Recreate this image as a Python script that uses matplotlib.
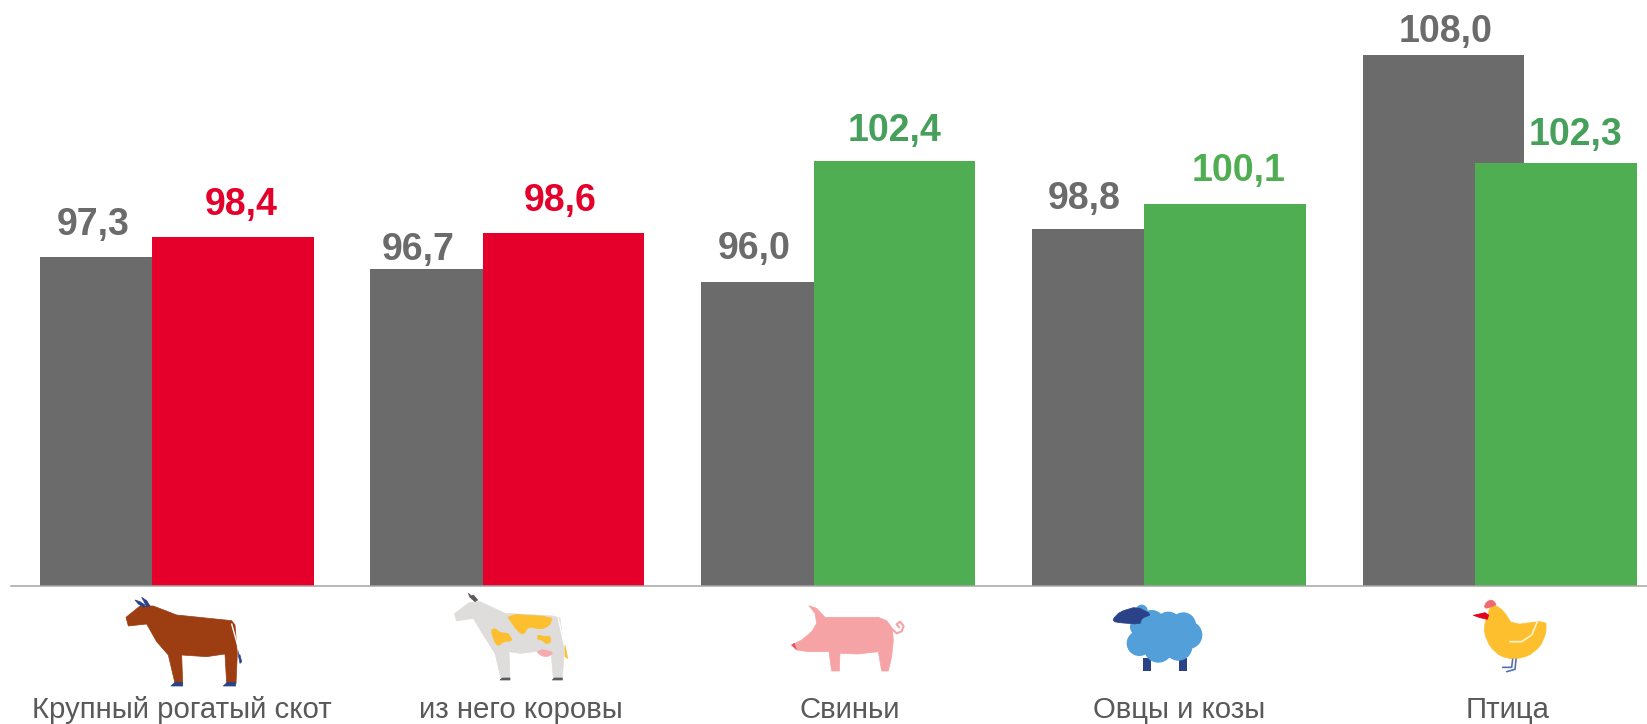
################################################################################
# Grouped bars with animal icons drawn below the axis                          #
################################################################################
import matplotlib
matplotlib.use("Agg")
import matplotlib.pyplot as plt
from matplotlib.patches import Polygon, Circle, Rectangle
import numpy as np

plt.rcParams['font.family'] = ['Liberation Sans', 'DejaVu Sans']

categories = ["Крупный рогатый скот", "из него коровы", "Свиньи", "Овцы и козы", "Птица"]
values_prev = [97.3, 96.7, 96.0, 98.8, 108.0]
values_curr = [98.4, 98.6, 102.4, 100.1, 102.3]
labels_prev = ["97,3", "96,7", "96,0", "98,8", "108,0"]
labels_curr = ["98,4", "98,6", "102,4", "100,1", "102,3"]

GRAY = "#6b6b6b"
RED = "#e4002b"
GREEN = "#4fae52"
curr_colors = [RED, RED, GREEN, GREEN, GREEN]
curr_text_colors = [RED, RED, "#46a05c", GREEN, "#46a05c"]

W, H = 1647, 724
fig = plt.figure(figsize=(W / 100, H / 100), dpi=100)
base_px = 585.5
ax = fig.add_axes([11 / W, 1 - base_px / H, (W - 11) / W, base_px / H])
ax.set_xlim((11 - 39.5) / 330.75, (W - 39.5) / 330.75)
ax.set_ylim(80, 80 + base_px / 18.96)

x = np.arange(len(categories))
bar_w = 161.5 / 330.75
shift = 112.5 / 330.75
ax.bar(x, values_prev, width=bar_w, align='edge', color=GRAY, zorder=2)
ax.bar(x + shift, values_curr, width=bar_w, align='edge', color=curr_colors, zorder=3)

for s in ['top', 'left', 'right']:
    ax.spines[s].set_visible(False)
ax.spines['bottom'].set_color('#a6a6a6')
ax.spines['bottom'].set_linewidth(1.1)
ax.spines['bottom'].set_zorder(4)
ax.set_xticks([])
ax.set_yticks([])

# value labels, offsets are in pixels from the top centre of each bar
dx_prev = [-27, -33, -28, -28, 2]
dy_prev = [32, 19, 33, 30, 23]
dx_curr = [8, -3, 0, 14, 20]
dy_curr = [32, 32, 30, 33, 28]
for i in range(len(x)):
    ax.annotate(labels_prev[i], (x[i] + bar_w / 2, values_prev[i]),
                xytext=(dx_prev[i] * 0.72, dy_prev[i] * 0.72), textcoords='offset points',
                ha='center', va='center', fontsize=27, fontweight='bold', color=GRAY, annotation_clip=False)
    ax.annotate(labels_curr[i], (x[i] + shift + bar_w / 2, values_curr[i]),
                xytext=(dx_curr[i] * 0.72, dy_curr[i] * 0.72), textcoords='offset points',
                ha='center', va='center', fontsize=27, fontweight='bold', color=curr_text_colors[i], annotation_clip=False)

################################################################################
# Overlay in pixel coordinates for the icons and the category names            #
################################################################################
ov = fig.add_axes([0, 0, 1, 1], zorder=5)
ov.set_xlim(0, W)
ov.set_ylim(H, 0)
ov.axis('off')


def soften(pts):
    # one pass of corner cutting, the icons have no hard edges
    out = []
    for k in range(len(pts)):
        a, b = pts[k], pts[(k + 1) % len(pts)]
        out.append((0.8 * a[0] + 0.2 * b[0], 0.8 * a[1] + 0.2 * b[1]))
        out.append((0.2 * a[0] + 0.8 * b[0], 0.2 * a[1] + 0.8 * b[1]))
    return out


def shape(ox, oy, pts, color, z=1, smooth=False):
    if smooth:
        pts = soften(pts)
    pts = [(ox + a / 3, oy + b / 3) for a, b in pts]
    ov.add_patch(Polygon(pts, closed=True, facecolor=color, edgecolor=color,
                         linewidth=0.5, joinstyle='round', zorder=z))


def stroke(ox, oy, pts, color, lw=1.5, z=3):
    ov.plot([ox + a / 3 for a, b in pts], [oy + b / 3 for a, b in pts], color=color,
            lw=lw, solid_capstyle='round', zorder=z)


# beef cow
BROWN = "#9c3d12"
NAVY = "#2a4288"
shape(0, 530, [(378, 262), (420, 228), (460, 228), (530, 255), (695, 272), (705, 285), (712, 370),
               (708, 460), (680, 460), (675, 372), (620, 380), (545, 375), (548, 460), (525, 460),
               (505, 375), (470, 335), (440, 282), (385, 288)], BROWN)
shape(0, 530, [(405, 210), (420, 215), (435, 225), (432, 232), (415, 222)], NAVY, 2)
shape(0, 530, [(425, 202), (440, 212), (450, 228), (440, 230), (432, 215)], NAVY, 2)
shape(0, 530, [(513, 468), (525, 457), (548, 457), (548, 468)], NAVY, 2)
shape(0, 530, [(670, 468), (682, 457), (707, 457), (707, 468)], NAVY, 2)
shape(0, 530, [(716, 360), (725, 395), (720, 400), (716, 380)], NAVY, 2)
stroke(0, 530, [(695, 282), (720, 372)], 'white', 1)

# dairy cow
COW = "#dedddb"
YELLOW = "#fdbf2d"
shape(445, 590, [(28, 72), (72, 38), (105, 35), (180, 70), (325, 78), (345, 85), (358, 180), (352, 265),
                 (325, 265), (318, 185), (270, 185), (225, 190), (192, 185), (195, 265), (168, 265),
                 (150, 190), (115, 135), (85, 85), (35, 93)], COW)
shape(445, 590, [(182, 72), (322, 80), (315, 105), (290, 118), (250, 110), (235, 135), (215, 120)], YELLOW, 2, True)
shape(445, 590, [(138, 120), (150, 115), (165, 128), (190, 130), (203, 152), (175, 155), (160, 168), (148, 155)], YELLOW, 2, True)
shape(445, 590, [(278, 135), (300, 140), (315, 138), (318, 155), (305, 162), (290, 150), (278, 148)], YELLOW, 2, True)
shape(445, 590, [(275, 185), (295, 178), (325, 188), (310, 200), (290, 198)], "#f5aab0", 2, True)
shape(445, 590, [(360, 165), (368, 205), (360, 200)], YELLOW, 2)
shape(445, 590, [(70, 10), (80, 18), (85, 15), (98, 30), (90, 35), (75, 22)], "#5a5a5a", 2)
shape(445, 590, [(165, 270), (172, 264), (195, 264), (195, 270)], "#5a5a5a", 2)
shape(445, 590, [(322, 270), (328, 264), (352, 264), (352, 270)], "#5a5a5a", 2)
stroke(445, 590, [(340, 85), (358, 165)], 'white', 1)

# pig
PIG = "#f5a3a5"
shape(785, 590, [(72, 47), (95, 55), (120, 82), (280, 82), (305, 92), (322, 115), (325, 150), (320, 200),
                 (310, 243), (290, 243), (280, 185), (220, 192), (165, 190), (163, 243), (140, 243),
                 (132, 185), (70, 185), (35, 180), (20, 165), (50, 150), (80, 125), (95, 100), (90, 70)], PIG)
shape(785, 590, [(20, 165), (28, 160), (34, 178)], "#e8545c", 2)
stroke(785, 590, [(322, 118), (335, 130), (350, 124), (356, 108), (345, 95), (335, 103), (342, 112)], PIG, 1.5)

# sheep
SHEEP = "#529fd9"
for cx, cy, r in [(118, 160, 38), (175, 175, 43), (235, 170, 42), (265, 135, 42), (250, 105, 38),
                  (205, 105, 40), (155, 100, 40), (125, 62, 18), (120, 110, 30), (190, 140, 65)]:
    ov.add_patch(Circle((1100 + cx / 3, 590 + cy / 3), r / 3, color=SHEEP, lw=0, zorder=2))
ov.add_patch(Rectangle((1100 + 128 / 3, 590 + 205 / 3), 8, 12.5, color=NAVY, lw=0, zorder=1))
ov.add_patch(Rectangle((1100 + 236 / 3, 590 + 205 / 3), 8, 12.5, color=NAVY, lw=0, zorder=1))
shape(1100, 590, [(38, 88), (60, 65), (110, 50), (155, 73), (125, 85), (120, 103), (45, 97)], NAVY, 3, True)

# hen
shape(1450, 590, [(115, 75), (118, 55), (135, 45), (160, 62), (188, 105), (288, 92), (288, 130), (270, 170),
                  (235, 198), (190, 208), (150, 198), (120, 170), (103, 130), (105, 95)], YELLOW, 1, True)
shape(1450, 590, [(103, 50), (108, 38), (120, 30), (130, 32), (140, 45), (120, 52), (108, 55)], "#ef6a6e", 2, True)
shape(1450, 590, [(70, 76), (105, 68), (116, 75), (112, 88), (90, 83)], "#e2001a", 2)
stroke(1450, 590, [(180, 155), (215, 155), (245, 135), (262, 95)], '#fff3d0', 1.2)
stroke(1450, 590, [(188, 208), (185, 232), (158, 232)], "#5470b0", 1.2)
stroke(1450, 590, [(198, 208), (195, 238), (170, 245)], "#5470b0", 1.2)

# category names
label_x = [182, 521, 850, 1179, 1508]
for name, lx in zip(categories, label_x):
    ov.text(lx, 709.5, name, ha='center', va='center', fontsize=21.2, color='#595959')

fig.savefig("out.png", dpi=100)
